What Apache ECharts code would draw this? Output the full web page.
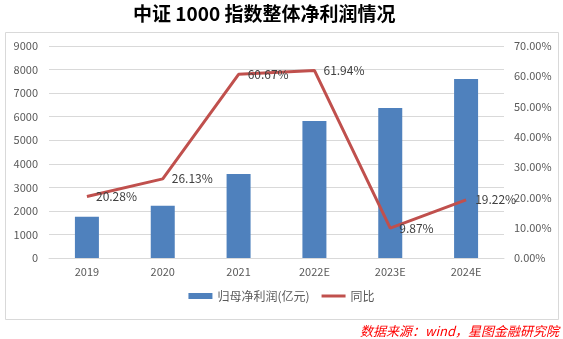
<!DOCTYPE html>
<html><head><meta charset="utf-8">
<script src="https://cdn.jsdelivr.net/npm/echarts@6/dist/echarts.min.js"></script>
<style>html,body{margin:0;padding:0;background:#fff}#c{width:563px;height:339px}</style>
</head><body><div id="c"></div>
<script>
const categories = ['2019','2020','2021','2022E','2023E','2024E'];
const profit = [1750, 2220, 3570, 5820, 6370, 7600];
const yoy = [20.28, 26.13, 60.67, 61.94, 9.87, 19.22];
const leftTicks = {min:0, max:9000, interval:1000};
const rightTicks = {min:0, max:70, interval:10};

const font = '"Noto Sans CJK SC","Noto Sans",sans-serif';
const chart = echarts.init(document.getElementById('c'));
chart.setOption({
  animation:false,
  backgroundColor:'#fff',
  title:{text:'中证 1000 指数整体净利润情况', left:128, top:-1,
    textStyle:{fontFamily:font, fontSize:19, fontWeight:'bold', color:'#000'}},
  graphic:[
    {type:'rect', shape:{x:5.5,y:32.5,width:553,height:287}, style:{fill:'none', stroke:'#d9d9d9', lineWidth:1}, z:-1},
    {type:'text', right:4, top:325, style:{text:'数据来源：wind，星图金融研究院', fill:'#ff0000', font:'italic 13px '+font}}
  ],
  legend:{bottom:32, left:'center', itemGap:12, itemWidth:24, itemHeight:6,
    textStyle:{fontFamily:font, fontSize:12, color:'#595959'},
    data:[{name:'归母净利润(亿元)', icon:'rect'},{name:'同比', icon:'path://M0,0H24V3H0Z'}]},
  grid:{left:49, right:59, top:46, bottom:81},
  xAxis:{type:'category', data:categories,
    axisLine:{lineStyle:{color:'#d9d9d9'}}, axisTick:{show:false},
    axisLabel:{color:'#595959', fontSize:11, fontFamily:font, margin:8}},
  yAxis:[
    {type:'value', min:leftTicks.min, max:leftTicks.max, interval:leftTicks.interval,
      axisLabel:{color:'#595959', fontSize:11, fontFamily:font, margin:11, formatter:v=>String(v)},
      splitLine:{lineStyle:{color:'#d9d9d9'}}, axisLine:{show:false}, axisTick:{show:false}},
    {type:'value', min:rightTicks.min, max:rightTicks.max, interval:rightTicks.interval,
      axisLabel:{color:'#595959', fontSize:11, fontFamily:font, margin:10, formatter:v=>v.toFixed(2)+'%'},
      splitLine:{show:false}, axisLine:{show:false}, axisTick:{show:false}}
  ],
  series:[
    {name:'归母净利润(亿元)', type:'bar', data:profit, barWidth:24, itemStyle:{color:'#4f81bd'}},
    {name:'同比', type:'line', yAxisIndex:1, data:yoy, symbol:'circle', symbolSize:0.1,
      lineStyle:{color:'#c0504d', width:3}, itemStyle:{color:'#c0504d'},
      label:{show:true, position:'right', distance:9, color:'#404040', fontSize:12, fontFamily:font,
        formatter:p=>p.value.toFixed(2)+'%'}}
  ]
});
</script></body></html>
